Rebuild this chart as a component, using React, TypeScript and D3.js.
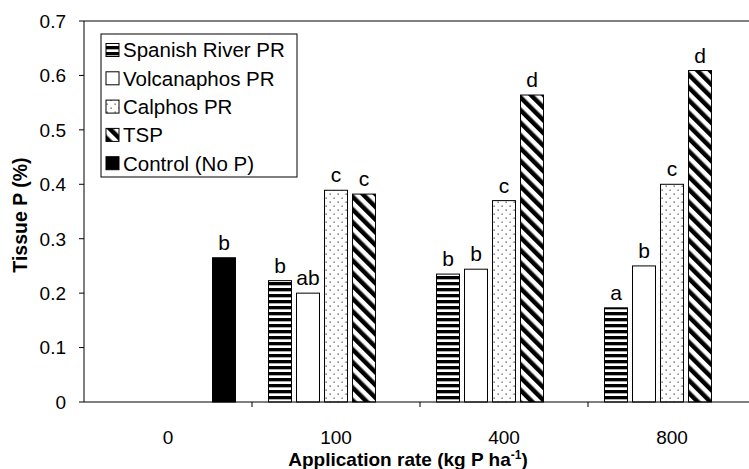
import { useEffect, useRef } from "react";
import * as d3 from "d3";

const groups = ["0", "100", "400", "800"];
const seriesNames = [
  "Spanish River PR",
  "Volcanaphos PR",
  "Calphos PR",
  "TSP",
  "Control (No P)",
];
// null = no bar in that group
const spanish = [null, 0.223, 0.235, 0.173];
const volcan = [null, 0.2, 0.244, 0.25];
const calphos = [null, 0.389, 0.37, 0.4];
const tsp = [null, 0.382, 0.564, 0.609];
const control = [0.265, null, null, null];

const spanishLetters = ["", "b", "b", "a"];
const volcanLetters = ["", "ab", "b", "b"];
const calphosLetters = ["", "c", "c", "c"];
const tspLetters = ["", "c", "d", "d"];
const controlLetters = ["b", "", "", ""];

const yTicks = [0, 0.1, 0.2, 0.3, 0.4, 0.5, 0.6, 0.7];

const seriesValues = [spanish, volcan, calphos, tsp, control];
const seriesLetters = [
  spanishLetters,
  volcanLetters,
  calphosLetters,
  tspLetters,
  controlLetters,
];
const fills = [
  "url(#pat-horiz)",
  "#fff",
  "url(#pat-dots)",
  "url(#pat-diag)",
  "#000",
];

export default function App() {
  const svgRef = useRef<SVGSVGElement>(null);

  useEffect(() => {
    if (!svgRef.current) return;
    const W = 749;
    const H = 469;
    const svg = d3.select(svgRef.current);
    svg.selectAll("*").remove();
    svg.attr("width", W).attr("height", H).attr("viewBox", `0 0 ${W} ${H}`);

    const font = "'Liberation Sans', Arial, sans-serif";
    const left = 84;
    const right = 756;
    const top = 21;
    const bottom = 402;

    // patterns
    const defs = svg.append("defs");
    const ph = defs
      .append("pattern")
      .attr("id", "pat-horiz")
      .attr("patternUnits", "userSpaceOnUse")
      .attr("width", 6)
      .attr("height", 6);
    ph.append("rect").attr("width", 6).attr("height", 6).attr("fill", "#fff");
    ph.append("rect").attr("y", 0).attr("width", 6).attr("height", 3).attr("fill", "#000");
    ph.append("rect").attr("y", 3).attr("width", 6).attr("height", 0.7).attr("fill", "#888");

    const pd = defs
      .append("pattern")
      .attr("id", "pat-dots")
      .attr("patternUnits", "userSpaceOnUse")
      .attr("width", 8)
      .attr("height", 8);
    pd.append("rect").attr("width", 8).attr("height", 8).attr("fill", "#fff");
    pd.append("rect").attr("x", 1.5).attr("y", 1.5).attr("width", 1.3).attr("height", 1.3).attr("fill", "#555");
    pd.append("rect").attr("x", 5.5).attr("y", 5.5).attr("width", 1.3).attr("height", 1.3).attr("fill", "#555");

    const pg = defs
      .append("pattern")
      .attr("id", "pat-diag")
      .attr("patternUnits", "userSpaceOnUse")
      .attr("width", 9)
      .attr("height", 9)
      .attr("patternTransform", "rotate(-45)");
    pg.append("rect").attr("width", 9).attr("height", 9).attr("fill", "#fff");
    pg.append("rect").attr("x", 0).attr("width", 4.5).attr("height", 9).attr("fill", "#000");

    const x0 = d3.scaleBand<string>().domain(groups).range([left, right]);
    const x1 = d3
      .scaleBand<string>()
      .domain(seriesNames)
      .range([0, x0.bandwidth()])
      .paddingInner(0.18)
      .paddingOuter(0.59);
    const y = d3.scaleLinear().domain([0, 0.7]).range([bottom, top]);

    // top border
    svg
      .append("line")
      .attr("x1", left)
      .attr("x2", W)
      .attr("y1", top)
      .attr("y2", top)
      .attr("stroke", "#808080")
      .attr("stroke-width", 2);

    // bars
    seriesNames.forEach((name, si) => {
      groups.forEach((g, gi) => {
        const v = seriesValues[si][gi];
        if (v === null) return;
        const bx = (x0(g) ?? 0) + (x1(name) ?? 0);
        svg
          .append("rect")
          .attr("x", bx)
          .attr("y", y(v))
          .attr("width", x1.bandwidth())
          .attr("height", y(0) - y(v))
          .attr("fill", fills[si])
          .attr("stroke", "#000")
          .attr("stroke-width", 1);
        svg
          .append("text")
          .attr("x", bx + x1.bandwidth() / 2)
          .attr("y", y(v) - 8)
          .attr("text-anchor", "middle")
          .attr("font-family", font)
          .attr("font-size", 21)
          .text(seriesLetters[si][gi]);
      });
    });

    // y axis
    svg
      .append("line")
      .attr("x1", left)
      .attr("x2", left)
      .attr("y1", top)
      .attr("y2", bottom)
      .attr("stroke", "#000");
    yTicks.forEach((t) => {
      svg
        .append("line")
        .attr("x1", left - 5)
        .attr("x2", left)
        .attr("y1", y(t))
        .attr("y2", y(t))
        .attr("stroke", "#000");
      svg
        .append("text")
        .attr("x", left - 18)
        .attr("y", y(t))
        .attr("dy", "0.36em")
        .attr("text-anchor", "end")
        .attr("font-family", font)
        .attr("font-size", 19)
        .text(String(t));
    });

    // x axis
    svg
      .append("line")
      .attr("x1", left)
      .attr("x2", W)
      .attr("y1", bottom)
      .attr("y2", bottom)
      .attr("stroke", "#000");
    groups.forEach((g, i) => {
      const gx = x0(g) ?? 0;
      if (i > 0) {
        svg
          .append("line")
          .attr("x1", gx)
          .attr("x2", gx)
          .attr("y1", bottom)
          .attr("y2", bottom + 5)
          .attr("stroke", "#000");
      }
      svg
        .append("text")
        .attr("x", gx + x0.bandwidth() / 2)
        .attr("y", 444)
        .attr("text-anchor", "middle")
        .attr("font-family", font)
        .attr("font-size", 19)
        .text(g);
    });

    // axis titles
    const xt = svg
      .append("text")
      .attr("x", 408)
      .attr("y", 466)
      .attr("text-anchor", "middle")
      .attr("font-family", font)
      .attr("font-size", 19)
      .attr("font-weight", "bold");
    xt.append("tspan").text("Application rate (kg P ha");
    xt.append("tspan").attr("dy", -7).attr("font-size", 12).text("-1");
    xt.append("tspan").attr("dy", 7).text(")");

    svg
      .append("text")
      .attr("transform", `translate(27,215) rotate(-90)`)
      .attr("text-anchor", "middle")
      .attr("font-family", font)
      .attr("font-size", 19.5)
      .attr("font-weight", "bold")
      .text("Tissue P (%)");

    // legend
    const lg = svg.append("g").attr("transform", "translate(101,34)");
    lg.append("rect")
      .attr("width", 196)
      .attr("height", 143)
      .attr("fill", "#fff")
      .attr("stroke", "#000");
    seriesNames.forEach((name, i) => {
      const cy = 16 + i * 28.3;
      lg.append("rect")
        .attr("x", 5)
        .attr("y", cy - 6.5)
        .attr("width", 13)
        .attr("height", 13)
        .attr("fill", fills[i])
        .attr("stroke", "#000");
      lg.append("text")
        .attr("x", 22)
        .attr("y", cy)
        .attr("dy", "0.36em")
        .attr("font-family", font)
        .attr("font-size", 20.5)
        .text(name);
    });
  }, []);

  return (
    <div style={{ position: "absolute", left: 0, top: 0, overflow: "hidden" }}>
      <svg ref={svgRef} style={{ display: "block" }} />
    </div>
  );
}
